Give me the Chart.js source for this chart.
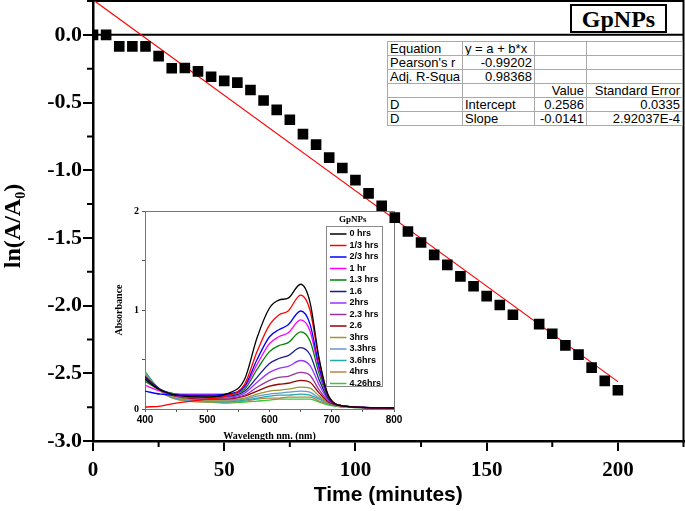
<!DOCTYPE html>
<html>
<head>
<meta charset="utf-8">
<script src="https://cdn.jsdelivr.net/npm/chart.js@4.4.0/dist/chart.umd.min.js"></script>
<style>
  html, body { margin: 0; padding: 0; background: #fff; }
  #wrap { position: relative; width: 685px; height: 511px; overflow: hidden; }
  canvas { position: absolute; }
  #main { left: 0; top: 0; z-index: 2; }
  #inset { left: 100px; top: 200px; z-index: 1; }
  #fit { position: absolute; left: 387px; top: 41px; z-index: 3; width: 295px; table-layout: fixed;
         border-collapse: collapse; background: #fff; font: 13px 'Liberation Sans', Arial, sans-serif; border: 1px solid #444; }
  #fit td { border: 1px solid #aaa; padding: 0 2px; height: 13px; line-height: 13px; white-space: nowrap; overflow: hidden; }
  #fit td.r { text-align: right; }
  #tag { position: absolute; left: 570px; top: 4px; width: 97px; height: 29px; box-sizing: border-box; z-index: 3;
         border: 2px solid #000; background: #fff; text-align: center; line-height: 25px;
         font: bold 24px 'Liberation Serif', 'Times New Roman', serif; }
</style>
</head>
<body>
<div id="wrap">
  <canvas id="inset" width="305" height="245"></canvas>
  <canvas id="main" width="685" height="511"></canvas>
  <div id="tag">GpNPs</div>
  <table id="fit">
    <colgroup><col style="width:75px"><col style="width:72px"><col style="width:52px"><col style="width:96px"></colgroup>
    <tr><td>Equation</td><td>y = a + b*x</td><td></td><td></td></tr>
    <tr><td>Pearson's r</td><td class="r">-0.99202</td><td></td><td></td></tr>
    <tr><td>Adj. R-Squa</td><td class="r">0.98368</td><td></td><td></td></tr>
    <tr><td></td><td></td><td class="r">Value</td><td class="r">Standard Error</td></tr>
    <tr><td>D</td><td>Intercept</td><td class="r">0.2586</td><td class="r">0.0335</td></tr>
    <tr><td>D</td><td>Slope</td><td class="r">-0.0141</td><td class="r">2.92037E-4</td></tr>
  </table>
</div>
<script>
// kinetics: ln(A/A0) vs time
const times = [0, 5, 10, 15, 20, 25, 30, 35, 40, 45, 50, 55, 60, 65, 70, 75, 80, 85, 90, 95,
  100, 105, 110, 115, 120, 125, 130, 135, 140, 145, 150, 155, 160, 170, 175, 180, 185, 190, 195, 200];
const lnRatio = [0.0, 0.0, -0.085, -0.085, -0.085, -0.157, -0.247, -0.245, -0.27, -0.309,
  -0.34, -0.353, -0.407, -0.485, -0.554, -0.627, -0.733, -0.811, -0.907, -0.983,
  -1.073, -1.171, -1.262, -1.35, -1.453, -1.534, -1.625, -1.699, -1.784, -1.857,
  -1.93, -1.995, -2.068, -2.137, -2.208, -2.294, -2.362, -2.458, -2.556, -2.625];
const fitIntercept = 0.2586;
const fitSlope = -0.0141;
const fitRange = [0, 200];

// inset: UV-vis spectra
const wavelengths = [400, 425, 450, 500, 530, 560, 580, 600, 615, 630, 650, 665, 680, 695, 720, 800];
const spectraLabels = ['0 hrs', '1/3 hrs', '2/3 hrs', '1 hr', '1.3 hrs', '1.6', '2hrs', '2.3 hrs', '2.6', '3hrs', '3.3hrs', '3.6hrs', '4hrs', '4.26hrs'];
const spectraColors = ['#000000', '#ff0000', '#0000ff', '#ff00ff', '#008000', '#1a1a8c', '#9933ff', '#993399', '#990000', '#999933', '#6699cc', '#22aaaa', '#b8864b', '#33cc33'];
const abs0h   = [0.30, 0.19, 0.14, 0.12, 0.15, 0.30, 0.72, 1.02, 1.10, 1.12, 1.26, 1.08, 0.50, 0.13, 0.03, 0.01];
const abs20m  = [0.02, 0.03, 0.06, 0.10, 0.13, 0.25, 0.58, 0.85, 0.95, 0.99, 1.15, 1.00, 0.48, 0.13, 0.03, 0.01];
const abs40m  = [0.18, 0.15, 0.14, 0.14, 0.15, 0.23, 0.50, 0.73, 0.80, 0.85, 0.99, 0.86, 0.42, 0.12, 0.03, 0.01];
const abs1h   = [0.24, 0.18, 0.15, 0.15, 0.15, 0.22, 0.45, 0.66, 0.73, 0.77, 0.90, 0.79, 0.39, 0.12, 0.03, 0.01];
const abs13h  = [0.28, 0.19, 0.15, 0.13, 0.14, 0.20, 0.40, 0.58, 0.64, 0.67, 0.78, 0.69, 0.35, 0.11, 0.03, 0.01];
const abs16h  = [0.32, 0.20, 0.15, 0.13, 0.13, 0.18, 0.32, 0.46, 0.51, 0.54, 0.62, 0.55, 0.29, 0.10, 0.03, 0.01];
const abs2h   = [0.30, 0.19, 0.14, 0.12, 0.12, 0.16, 0.27, 0.37, 0.41, 0.43, 0.49, 0.44, 0.24, 0.09, 0.03, 0.01];
const abs23h  = [0.31, 0.19, 0.13, 0.11, 0.11, 0.14, 0.22, 0.29, 0.32, 0.33, 0.37, 0.34, 0.19, 0.08, 0.03, 0.01];
const abs26h  = [0.33, 0.19, 0.13, 0.10, 0.10, 0.13, 0.18, 0.23, 0.25, 0.26, 0.29, 0.27, 0.16, 0.07, 0.03, 0.01];
const abs3h   = [0.35, 0.19, 0.12, 0.09, 0.09, 0.11, 0.15, 0.18, 0.19, 0.20, 0.22, 0.21, 0.13, 0.06, 0.02, 0.01];
const abs33h  = [0.36, 0.19, 0.11, 0.08, 0.08, 0.10, 0.13, 0.15, 0.16, 0.17, 0.18, 0.17, 0.11, 0.06, 0.02, 0.01];
const abs36h  = [0.37, 0.19, 0.11, 0.08, 0.07, 0.09, 0.11, 0.13, 0.14, 0.14, 0.15, 0.14, 0.10, 0.05, 0.02, 0.01];
const abs4h   = [0.36, 0.18, 0.10, 0.07, 0.07, 0.08, 0.10, 0.11, 0.11, 0.12, 0.12, 0.12, 0.08, 0.05, 0.02, 0.01];
const abs426h = [0.38, 0.18, 0.10, 0.07, 0.06, 0.07, 0.08, 0.09, 0.10, 0.10, 0.10, 0.10, 0.07, 0.04, 0.02, 0.01];
const spectra = [abs0h, abs20m, abs40m, abs1h, abs13h, abs16h, abs2h, abs23h, abs26h, abs3h, abs33h, abs36h, abs4h, abs426h];

const serif = "'Liberation Serif', 'Times New Roman', serif";
const sans = "'Liberation Sans', Arial, sans-serif";
const isMult = (v, s) => Math.abs(v / s - Math.round(v / s)) < 1e-6;

// frame, zero line, minor ticks and the y title with subscript
const mainExtras = {
  id: 'mainExtras',
  beforeDatasetsDraw(chart) {
    const { ctx, chartArea: a, scales: { y } } = chart;
    ctx.save();
    ctx.strokeStyle = '#000';
    ctx.lineWidth = 2;
    ctx.beginPath();
    ctx.moveTo(a.left, a.top); ctx.lineTo(a.right, a.top); ctx.lineTo(a.right, a.bottom);
    const y0 = y.getPixelForValue(0);
    ctx.moveTo(a.left, y0); ctx.lineTo(a.right, y0);
    ctx.stroke();
    ctx.restore();
  },
  afterDraw(chart) {
    const { ctx, chartArea: a, scales: { x, y } } = chart;
    ctx.save();
    ctx.strokeStyle = '#000';
    ctx.lineWidth = 2;
    ctx.beginPath();
    x.ticks.forEach(t => {
      if (!isMult(t.value, 50)) { const px = x.getPixelForValue(t.value); ctx.moveTo(px, a.bottom); ctx.lineTo(px, a.bottom + 6); }
    });
    y.ticks.forEach(t => {
      if (!isMult(t.value, 0.5)) { const py = y.getPixelForValue(t.value); ctx.moveTo(a.left, py); ctx.lineTo(a.left - 6, py); }
    });
    ctx.stroke();

    ctx.translate(20, 226);
    ctx.rotate(-Math.PI / 2);
    ctx.fillStyle = '#000';
    ctx.textBaseline = 'alphabetic';
    const big = `bold 24px ${serif}`, small = `bold 14px ${serif}`;
    ctx.font = big;
    const w1 = ctx.measureText('ln(A/A').width, w3 = ctx.measureText(')').width;
    ctx.font = small;
    const w2 = ctx.measureText('0').width;
    const sx = -(w1 + w2 + w3) / 2;
    ctx.font = big; ctx.fillText('ln(A/A', sx, 0);
    ctx.font = small; ctx.fillText('0', sx + w1, 5);
    ctx.font = big; ctx.fillText(')', sx + w1 + w2, 0);
    ctx.restore();
  }
};

new Chart(document.getElementById('main'), {
  type: 'scatter',
  data: {
    datasets: [
      {
        data: times.map((t, i) => ({ x: t, y: lnRatio[i] })),
        pointStyle: 'rect', pointRadius: 7.5, backgroundColor: '#000', borderColor: '#000', borderWidth: 0
      },
      {
        type: 'line',
        data: fitRange.map(t => ({ x: t, y: fitIntercept + fitSlope * t })),
        borderColor: '#ff0000', borderWidth: 1.2, pointRadius: 0, fill: false
      }
    ]
  },
  options: {
    responsive: false, animation: false, devicePixelRatio: 1, events: [],
    layout: { autoPadding: false, padding: { top: 1, right: 1.5, left: 0, bottom: 0 } },
    plugins: { legend: { display: false }, tooltip: { enabled: false } },
    scales: {
      x: {
        type: 'linear', min: 0, max: 225,
        afterFit(s) { s.height = 70; s.paddingLeft = 0; s.paddingRight = 0; },
        border: { color: '#000', width: 2.5 },
        grid: { drawOnChartArea: false, tickLength: 10, lineWidth: 2, color: c => isMult(c.tick.value, 50) ? '#000' : 'rgba(0,0,0,0)' },
        ticks: {
          stepSize: 25, autoSkip: false, maxRotation: 0, padding: 7, color: '#000',
          font: { family: serif, size: 21, weight: 'bold' },
          callback: v => isMult(v, 50) ? String(v) : ''
        },
        title: { display: true, text: 'Time (minutes)', color: '#000', font: { family: sans, size: 21, weight: 'bold' }, padding: { top: 0, bottom: 3 } }
      },
      y: {
        type: 'linear', min: -3, max: 0.25,
        afterFit(s) { s.width = 93; s.paddingTop = 0; s.paddingBottom = 0; },
        border: { color: '#000', width: 2.5 },
        grid: { drawOnChartArea: false, tickLength: 10, lineWidth: 2, color: c => isMult(c.tick.value, 0.5) ? '#000' : 'rgba(0,0,0,0)' },
        ticks: {
          stepSize: 0.25, autoSkip: false, padding: 1, color: '#000',
          font: { family: serif, size: 22, weight: 'bold' },
          callback: v => isMult(v, 0.5) ? v.toFixed(1) : ''
        }
      }
    }
  },
  plugins: [mainExtras]
});

// inset frame and legend
const insetExtras = {
  id: 'insetExtras',
  afterDraw(chart) {
    const { ctx, chartArea: a } = chart;
    ctx.save();
    ctx.strokeStyle = '#777';
    ctx.lineWidth = 1;
    ctx.beginPath();
    ctx.moveTo(a.left, a.top + 0.5); ctx.lineTo(a.right + 0.5, a.top + 0.5); ctx.lineTo(a.right + 0.5, a.bottom);
    ctx.stroke();

    ctx.fillStyle = '#000';
    ctx.textAlign = 'center';
    ctx.textBaseline = 'middle';
    ctx.font = `bold 9px ${serif}`;
    ctx.fillText('GpNPs', 252.7, 20);

    ctx.fillStyle = '#fff';
    ctx.fillRect(226.5, 26.5, 56, 160);
    ctx.strokeStyle = '#888';
    ctx.strokeRect(226.5, 26.5, 56, 160);

    ctx.textAlign = 'left';
    ctx.font = `bold 9px ${sans}`;
    chart.data.datasets.forEach((ds, i) => {
      const yy = 34 + i * 11.5;
      ctx.strokeStyle = ds.borderColor;
      ctx.lineWidth = 1.5;
      ctx.beginPath(); ctx.moveTo(230, yy); ctx.lineTo(246.5, yy); ctx.stroke();
      ctx.fillStyle = '#000';
      ctx.fillText(ds.label, 249.5, yy);
    });
    ctx.restore();
  }
};

new Chart(document.getElementById('inset'), {
  type: 'line',
  data: {
    datasets: spectra.map((vals, i) => ({
      label: spectraLabels[i],
      data: vals.map((v, j) => ({ x: wavelengths[j], y: v })),
      borderColor: spectraColors[i], borderWidth: 1.3, pointRadius: 0,
      cubicInterpolationMode: 'monotone', fill: false
    }))
  },
  options: {
    responsive: false, animation: false, devicePixelRatio: 1, events: [],
    layout: { autoPadding: false, padding: { top: 11, right: 11, left: 0, bottom: 0 } },
    plugins: { legend: { display: false }, tooltip: { enabled: false } },
    scales: {
      x: {
        type: 'linear', min: 400, max: 800,
        afterFit(s) { s.height = 36; s.paddingLeft = 0; s.paddingRight = 0; },
        border: { color: '#777', width: 1 },
        grid: { drawOnChartArea: false, tickLength: 3, color: '#555' },
        ticks: {
          stepSize: 50, autoSkip: false, maxRotation: 0, padding: 2, color: '#000',
          font: { family: sans, size: 10, weight: 'bold' },
          callback: v => isMult(v, 100) ? String(v) : ''
        },
        title: { display: true, text: 'Wavelength nm. (nm)', color: '#000', font: { family: serif, size: 10, weight: 'bold' }, padding: { top: 0, bottom: 3 } }
      },
      y: {
        type: 'linear', min: 0, max: 2,
        afterFit(s) { s.width = 45; s.paddingTop = 0; s.paddingBottom = 0; },
        border: { color: '#777', width: 1 },
        grid: { drawOnChartArea: false, tickLength: 3, color: '#555' },
        ticks: {
          stepSize: 0.5, autoSkip: false, padding: 3, color: '#000',
          font: { family: serif, size: 10, weight: 'bold' },
          callback: v => isMult(v, 1) ? String(v) : ''
        },
        title: { display: true, text: 'Absorbance', color: '#000', font: { family: serif, size: 10, weight: 'bold' }, padding: { top: 13, bottom: 0 } }
      }
    }
  },
  plugins: [insetExtras]
});
</script>
</body>
</html>
